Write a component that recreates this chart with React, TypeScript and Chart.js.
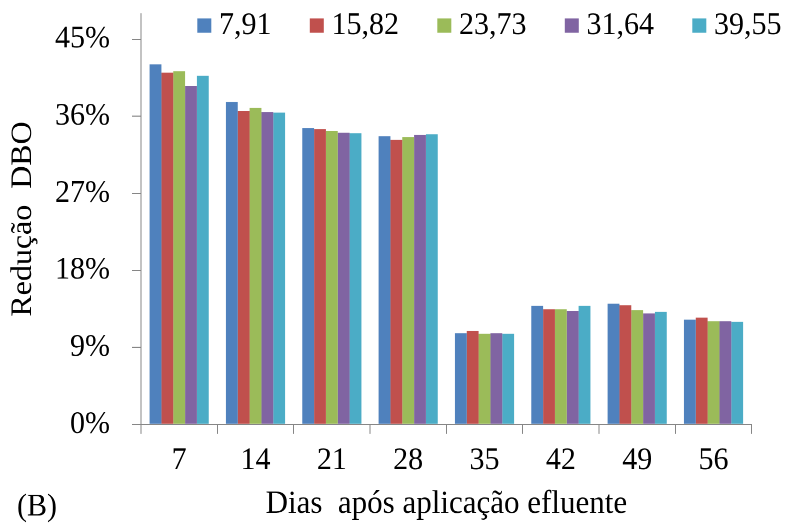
import React, { useEffect, useRef } from "react";
import { Chart, registerables } from "chart.js";

Chart.register(...registerables);

// ---- data ----
const categories = ["7", "14", "21", "28", "35", "42", "49", "56"];
const seriesLabels = ["7,91", "15,82", "23,73", "31,64", "39,55"];
const s791 = [42.08, 37.67, 34.63, 33.66, 10.64, 13.86, 14.1, 12.23];
const s1582 = [41.09, 36.65, 34.51, 33.23, 10.9, 13.44, 13.91, 12.46];
const s2373 = [41.26, 36.97, 34.28, 33.58, 10.59, 13.44, 13.36, 12.04];
const s3164 = [39.57, 36.5, 34.08, 33.85, 10.64, 13.24, 12.97, 12.04];
const s3955 = [40.74, 36.42, 34.01, 33.89, 10.59, 13.86, 13.13, 11.99];
const yTickValues = [0, 9, 18, 27, 36, 45];
const yMax = 48;
const xTitle = "Dias  após aplicação efluente";
const yTitle = "Redução  DBO";
const panelLabel = "(B)";

// ---- style ----
const FONT = "'Liberation Serif', 'Times New Roman', serif";
const COLORS = ["#4F81BD", "#C0504D", "#9BBB59", "#8064A2", "#4BACC6"];
const AXIS = "#868686";
const W = 790;
const H = 492; // internal height, stretched to 524 via CSS
const CSS_H = 524;

const customDraw = {
  id: "customDraw",
  afterDraw(chart: any) {
    const ctx = chart.ctx;
    ctx.save();
    ctx.font = `30px ${FONT}`;
    ctx.textBaseline = "middle";
    ctx.textAlign = "left";
    let x = 197.3;
    const cy = 24;
    chart.data.datasets.forEach((ds: any) => {
      ctx.fillStyle = ds.backgroundColor;
      ctx.fillRect(x, cy - 6.75, 14, 13.5);
      ctx.fillStyle = "#000";
      const tx = x + 21.7;
      ctx.fillText(ds.label, tx, cy);
      x = tx + ctx.measureText(ds.label).width + 38.3;
    });
    ctx.fillStyle = "#000";
    ctx.fillText(panelLabel, 17, 476);
    ctx.restore();
  },
};

export default function App() {
  const ref = useRef<HTMLCanvasElement | null>(null);

  useEffect(() => {
    if (!ref.current) return;
    const series = [s791, s1582, s2373, s3164, s3955];
    const chart = new Chart(ref.current, {
      type: "bar",
      data: {
        labels: categories,
        datasets: series.map((d, i) => ({
          label: seriesLabels[i],
          data: d,
          backgroundColor: COLORS[i],
          borderWidth: 0,
          categoryPercentage: 0.775,
          barPercentage: 1.0,
        })),
      },
      options: {
        responsive: false,
        animation: false,
        devicePixelRatio: 2,
        layout: { padding: { left: 0, right: 38.3, top: 12.77, bottom: 0 } },
        plugins: {
          legend: { display: false },
          tooltip: { enabled: false },
        },
        scales: {
          x: {
            offset: true,
            grid: {
              display: true,
              offset: true,
              drawOnChartArea: false,
              drawTicks: true,
              tickLength: 9,
              color: AXIS,
            },
            border: { display: true, color: AXIS, width: 1 },
            ticks: {
              color: "#000",
              font: { family: FONT, size: 30 },
              padding: 7,
              maxRotation: 0,
              autoSkip: false,
            },
            title: {
              display: true,
              text: xTitle,
              color: "#000",
              font: { family: FONT, size: 31 },
              padding: { top: 0, bottom: 0 },
            },
            afterFit: (scale: any) => {
              scale.height = H - 398.4;
              scale.paddingLeft = 0;
              scale.paddingRight = 0;
            },
          },
          y: {
            min: 0,
            max: yMax,
            grid: {
              display: true,
              drawOnChartArea: false,
              drawTicks: true,
              tickLength: 9,
              color: AXIS,
            },
            border: { display: true, color: AXIS, width: 1 },
            ticks: {
              stepSize: 9,
              color: "#000",
              font: { family: FONT, size: 30 },
              padding: 22,
              callback: (v: any) => `${v}%`,
            },
            afterBuildTicks: (scale: any) => {
              scale.ticks = yTickValues.map((v) => ({ value: v }));
            },
            title: {
              display: true,
              text: yTitle,
              color: "#000",
              font: { family: FONT, size: 30 },
              padding: { top: 5, bottom: 0 },
            },
            afterFit: (scale: any) => {
              scale.width = 141;
              scale.paddingTop = 0;
              scale.paddingBottom = 0;
            },
          },
        },
      },
      plugins: [customDraw],
    });
    return () => chart.destroy();
  }, []);

  return (
    <div style={{ position: "fixed", left: 0, top: 0, width: W, height: CSS_H, background: "#fff" }}>
      <canvas
        ref={ref}
        width={W}
        height={H}
        style={{ width: `${W}px`, height: `${CSS_H}px`, display: "block" }}
      />
    </div>
  );
}
